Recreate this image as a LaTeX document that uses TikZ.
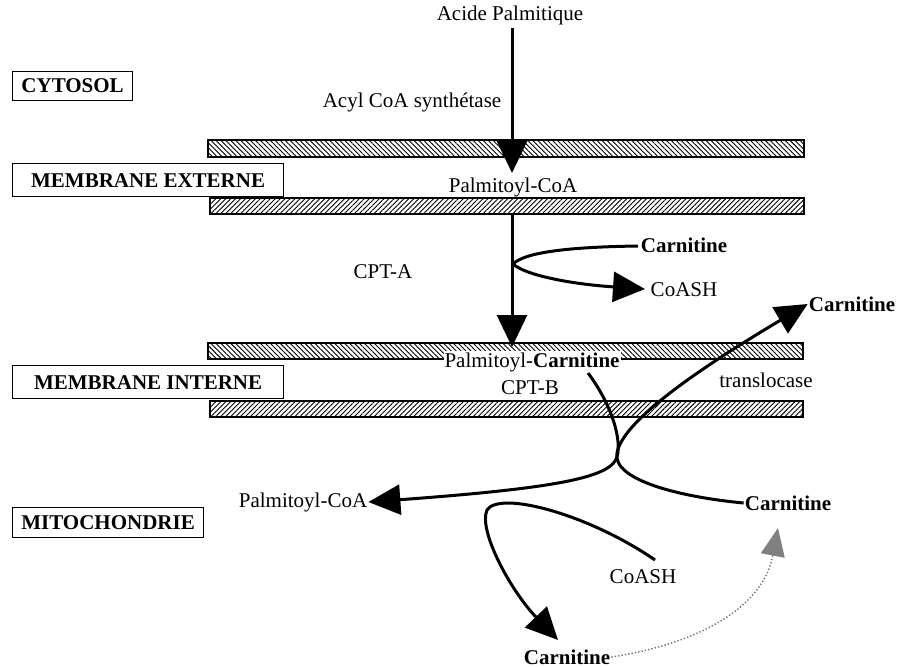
\documentclass[tikz,border=0pt]{standalone}
\usepackage{fontspec}
\setmainfont{Liberation Serif}
\usetikzlibrary{arrows.meta,patterns.meta}
\begin{document}
\begin{tikzpicture}[x=1pt,y=-1pt,
  lbl/.style={font=\fontsize{21}{25}\selectfont, inner sep=1pt},
  blbl/.style={font=\fontsize{21}{25}\selectfont\bfseries, inner sep=1pt},
  zonebox/.style={draw, line width=1.2pt, font=\fontsize{21}{25}\selectfont\bfseries, inner sep=0pt, anchor=north west},
  bandA/.style={draw, line width=1.2pt, pattern={Lines[angle=-45,distance=3.5pt,line width=0.9pt]}},
  bandB/.style={draw, line width=1.2pt, pattern={Lines[angle=45,distance=3.5pt,line width=0.9pt]}},
  flow/.style={line width=3pt, -{Triangle[length=32pt,width=30pt]}},
  plain/.style={line width=3pt},
  dots/.style={black!55, line width=1.4pt, dotted, -{Triangle[length=28pt,width=24pt,fill=black!50,color=black!50]}},
]
\useasboundingbox (0,0) rectangle (911,667);

% membranes
\draw[bandA] (208,140) rectangle (804,157);
\draw[bandB] (210,198) rectangle (804,214);
\draw[bandA] (208,343) rectangle (803,359);
\draw[bandB] (210,401) rectangle (803,417);

% zone labels
\node[zonebox, minimum width=120pt, minimum height=29pt] (cyto) at (12,71) {CYTOSOL};
\node[zonebox, minimum width=271pt, minimum height=33pt] (mext) at (12,163) {MEMBRANE EXTERNE};
\node[zonebox, minimum width=271pt, minimum height=33pt] (mint) at (12,365) {MEMBRANE INTERNE};
\node[zonebox, minimum width=191pt, minimum height=30pt] (mito) at (12,507) {MITOCHONDRIE};

% texts
\node[lbl] (acide) at (510,15) {Acide Palmitique};
\node[lbl] (acyl) at (412,102) {Acyl CoA synthétase};
\node[lbl] (pcoa1) at (513,187) {Palmitoyl-CoA};
\node[lbl] (cpta) at (383,272) {CPT-A};
\node[blbl] (carn1) at (684,245) {Carnitine};
\node[lbl] (coash1) at (684,290) {CoASH};
\node[lbl, fill=white] (pcarn) at (532,362) {Palmitoyl-\textbf{Carnitine}};
\node[lbl] (cptb) at (530,388) {CPT-B};
\node[lbl] (transl) at (766,380) {translocase};
\node[blbl] (carn2) at (852,304) {Carnitine};
\node[lbl] (pcoa2) at (303,502) {Palmitoyl-CoA};
\node[blbl] (carn3) at (788,503) {Carnitine};
\node[lbl] (coash2) at (643,577) {CoASH};
\node[blbl] (carn4) at (567,657) {Carnitine};

% coordinates
\coordinate (v1a) at (512,28);
\coordinate (v1b) at (512,173);
\coordinate (v2a) at (512,213);
\coordinate (v2b) at (512,347);
\coordinate (j1) at (513,264);
\coordinate (c1end) at (638,246);
\coordinate (h1tip) at (645,289);
\coordinate (pcs) at (588,373);
\coordinate (cos2) at (655,560);
\coordinate (c4tip) at (558,640);
\coordinate (dtip) at (778,528);

% connectors
\draw[flow] (v1a) -- (v1b);
\draw[flow] (v2a) -- (v2b);
\draw[plain] (c1end) .. controls (570,247) and (525,252) .. (j1);
\draw[flow] (j1) .. controls (525,275) and (570,284) .. (h1tip);
\draw[flow] (pcs) .. controls (612,405) and (622,440) .. (617,457) .. controls (611,477) and (560,488) .. (pcoa2.east);
\draw[flow] (carn3.west) .. controls (680,497) and (612,480) .. (617,453) .. controls (622,425) and (680,380) .. (carn2.west);
\draw[flow] (cos2) .. controls (590,515) and (500,490) .. (487,510) .. controls (478,530) and (510,590) .. (c4tip);
\draw[dots] (carn4.east) .. controls (690,645) and (762,612) .. (dtip);
\end{tikzpicture}
\end{document}
